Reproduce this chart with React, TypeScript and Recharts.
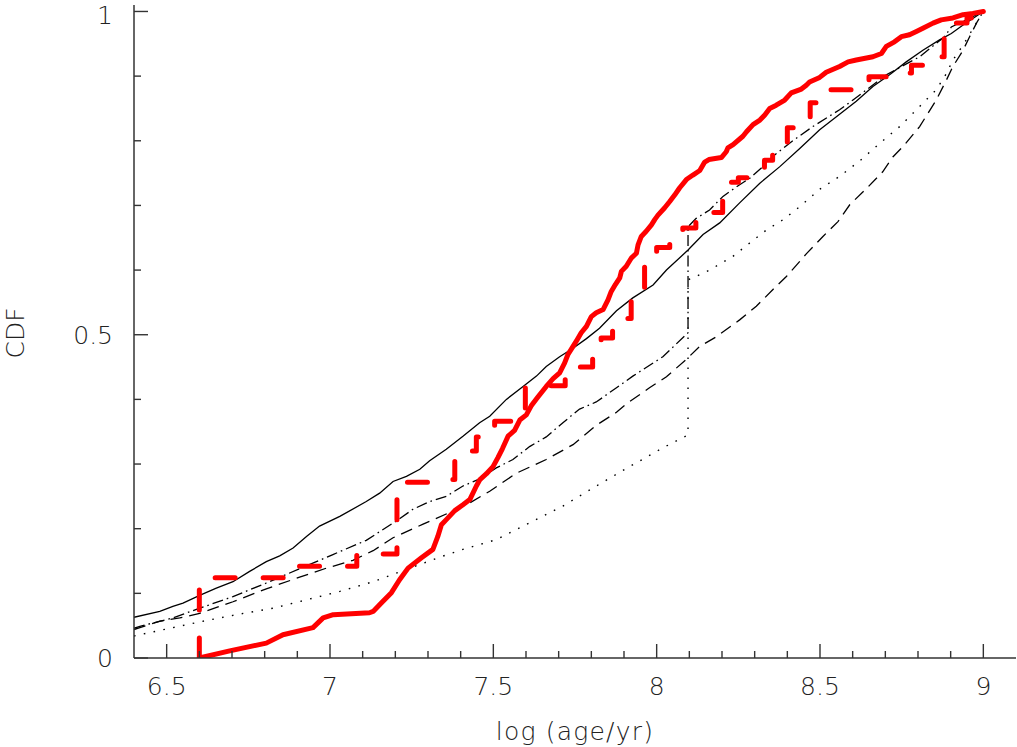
import React from 'react';
import { LineChart, Line, XAxis, YAxis } from 'recharts';

// ---- data (x = log age/yr, y = CDF) ----
const redSolidPts: [number, number][] = [
  [6.6, 0], [6.693, 0.011], [6.805, 0.023], [6.856, 0.036], [6.948, 0.047], [6.979, 0.062], [7.01, 0.067],
  [7.121, 0.07], [7.132, 0.072], [7.157, 0.085], [7.188, 0.101], [7.213, 0.121], [7.239, 0.139], [7.28, 0.155],
  [7.315, 0.168], [7.33, 0.188], [7.341, 0.206], [7.356, 0.214], [7.382, 0.228], [7.407, 0.237], [7.428, 0.245],
  [7.448, 0.266], [7.459, 0.276], [7.479, 0.285], [7.499, 0.296], [7.514, 0.31], [7.528, 0.324], [7.545, 0.343],
  [7.565, 0.352], [7.581, 0.368], [7.601, 0.376], [7.616, 0.39], [7.637, 0.404], [7.662, 0.42], [7.683, 0.432],
  [7.703, 0.441], [7.718, 0.456], [7.728, 0.469], [7.744, 0.482], [7.754, 0.49], [7.769, 0.503], [7.785, 0.513],
  [7.8, 0.528], [7.815, 0.534], [7.836, 0.539], [7.851, 0.554], [7.861, 0.567], [7.874, 0.578], [7.887, 0.588],
  [7.892, 0.598], [7.907, 0.606], [7.923, 0.619], [7.938, 0.626], [7.943, 0.639], [7.953, 0.652], [7.968, 0.66],
  [7.984, 0.67], [7.994, 0.678], [8.004, 0.685], [8.024, 0.696], [8.04, 0.706], [8.055, 0.716], [8.07, 0.727],
  [8.091, 0.74], [8.111, 0.747], [8.132, 0.754], [8.147, 0.767], [8.16, 0.771], [8.198, 0.774], [8.213, 0.783],
  [8.218, 0.789], [8.234, 0.794], [8.264, 0.807], [8.275, 0.814], [8.295, 0.825], [8.316, 0.832], [8.331, 0.84],
  [8.346, 0.85], [8.366, 0.855], [8.392, 0.863], [8.412, 0.874], [8.443, 0.88], [8.458, 0.886], [8.468, 0.891],
  [8.499, 0.898], [8.519, 0.906], [8.56, 0.915], [8.586, 0.922], [8.611, 0.925], [8.662, 0.93], [8.688, 0.935],
  [8.703, 0.946], [8.728, 0.953], [8.749, 0.961], [8.774, 0.964], [8.795, 0.969], [8.815, 0.974], [8.846, 0.982],
  [8.871, 0.987], [8.907, 0.99], [8.938, 0.995], [8.968, 0.997], [9.0, 1.0],
];

const redDashedSteps: [number, number][] = [
  [6.6, 0], [6.6, 0.124], [6.898, 0.142], [7.082, 0.161], [7.205, 0.272], [7.32, 0.276], [7.382, 0.32],
  [7.448, 0.342], [7.504, 0.366], [7.598, 0.421], [7.72, 0.45], [7.804, 0.49], [7.83, 0.495], [7.865, 0.525],
  [7.922, 0.573], [7.963, 0.62], [8.0, 0.635], [8.04, 0.647], [8.08, 0.665], [8.12, 0.68], [8.15, 0.689],
  [8.202, 0.736], [8.25, 0.743], [8.33, 0.77], [8.355, 0.794], [8.4, 0.82], [8.45, 0.835], [8.47, 0.859],
  [8.5, 0.879], [8.6, 0.886], [8.65, 0.899], [8.72, 0.905], [8.78, 0.917], [8.82, 0.93], [8.88, 0.965],
  [8.905, 0.982], [8.95, 0.99], [9.0, 1.0],
];

const solidModelPts: [number, number][] = [
  [6.4, 0.063], [6.479, 0.072], [6.519, 0.08], [6.55, 0.085], [6.601, 0.097], [6.652, 0.108], [6.703, 0.118],
  [6.754, 0.134], [6.805, 0.149], [6.846, 0.158], [6.887, 0.17], [6.928, 0.188], [6.968, 0.204], [7.03, 0.219],
  [7.111, 0.242], [7.152, 0.255], [7.193, 0.273], [7.234, 0.281], [7.275, 0.292], [7.305, 0.305], [7.356, 0.323],
  [7.407, 0.343], [7.458, 0.364], [7.489, 0.374], [7.54, 0.4], [7.591, 0.42], [7.632, 0.436], [7.662, 0.451],
  [7.703, 0.466], [7.744, 0.479], [7.785, 0.494], [7.825, 0.51], [7.877, 0.537], [7.927, 0.557], [7.989, 0.577],
  [8.03, 0.6], [8.096, 0.631], [8.142, 0.655], [8.193, 0.673], [8.254, 0.704], [8.315, 0.734], [8.377, 0.76],
  [8.438, 0.788], [8.499, 0.817], [8.56, 0.841], [8.611, 0.861], [8.662, 0.884], [8.713, 0.902], [8.764, 0.922],
  [8.815, 0.94], [8.866, 0.956], [8.902, 0.966], [8.938, 0.979], [9.0, 1.0],
];

const dashDotModelPts: [number, number][] = [
  [6.4, 0.046], [6.418, 0.049], [6.519, 0.062], [6.601, 0.077], [6.703, 0.095], [6.805, 0.116], [6.907, 0.138],
  [7.009, 0.16], [7.111, 0.182], [7.203, 0.212], [7.254, 0.23], [7.305, 0.242], [7.356, 0.25], [7.407, 0.266],
  [7.458, 0.277], [7.509, 0.294], [7.56, 0.307], [7.611, 0.327], [7.662, 0.342], [7.713, 0.364], [7.764, 0.385],
  [7.815, 0.396], [7.877, 0.418], [7.927, 0.436], [8.019, 0.466], [8.096, 0.503], [8.096, 0.667], [8.121, 0.68],
  [8.162, 0.693], [8.203, 0.714], [8.254, 0.732], [8.285, 0.742], [8.336, 0.765], [8.356, 0.776], [8.417, 0.8],
  [8.478, 0.822], [8.56, 0.848], [8.601, 0.863], [8.703, 0.902], [8.805, 0.93], [8.881, 0.961], [8.902, 0.976],
  [9.0, 1.0],
];

const dashedModelPts: [number, number][] = [
  [6.4, 0.044], [6.418, 0.047], [6.479, 0.057], [6.54, 0.062], [6.601, 0.069], [6.703, 0.087], [6.805, 0.107],
  [6.907, 0.125], [6.989, 0.139], [7.07, 0.151], [7.132, 0.166], [7.193, 0.186], [7.285, 0.207], [7.366, 0.225],
  [7.428, 0.24], [7.489, 0.258], [7.571, 0.286], [7.662, 0.307], [7.744, 0.33], [7.815, 0.36], [7.877, 0.38],
  [7.907, 0.393], [7.978, 0.418], [8.03, 0.435], [8.091, 0.462], [8.132, 0.482], [8.183, 0.497], [8.254, 0.523],
  [8.305, 0.544], [8.356, 0.57], [8.397, 0.59], [8.458, 0.625], [8.509, 0.652], [8.555, 0.675], [8.591, 0.701],
  [8.642, 0.726], [8.692, 0.752], [8.723, 0.775], [8.754, 0.791], [8.805, 0.822], [8.856, 0.863], [8.887, 0.894],
  [8.907, 0.915], [8.938, 0.94], [8.958, 0.961], [8.979, 0.982], [9.0, 1.0],
];

const dottedModelPts: [number, number][] = [
  [6.4, 0.034], [6.418, 0.036], [6.519, 0.047], [6.622, 0.058], [6.724, 0.068], [6.826, 0.077], [6.928, 0.09],
  [7.03, 0.103], [7.132, 0.118], [7.234, 0.137], [7.336, 0.156], [7.407, 0.168], [7.509, 0.183], [7.611, 0.209],
  [7.713, 0.235], [7.815, 0.266], [7.917, 0.296], [8.019, 0.325], [8.096, 0.345], [8.096, 0.585], [8.111, 0.588],
  [8.162, 0.6], [8.233, 0.621], [8.285, 0.642], [8.336, 0.662], [8.387, 0.678], [8.438, 0.698], [8.499, 0.725],
  [8.56, 0.745], [8.622, 0.769], [8.683, 0.796], [8.744, 0.822], [8.805, 0.853], [8.856, 0.879], [8.887, 0.904],
  [8.907, 0.925], [8.938, 0.948], [9.0, 1.0],
];

// ---- ticks ----
const xMajorTicks = [6.5, 7, 7.5, 8, 8.5, 9];
const xMajorLabels = ['6.5', '7', '7.5', '8', '8.5', '9'];
const xMinorTicks = [6.6, 6.7, 6.8, 6.9, 7.1, 7.2, 7.3, 7.4, 7.6, 7.7, 7.8, 7.9, 8.1, 8.2, 8.3, 8.4, 8.6, 8.7, 8.8, 8.9];
const yMajorTicks = [0, 0.5, 1];
const yMajorLabels = ['0', '0.5', '1'];
const yMinorTicks = [0.1, 0.2, 0.3, 0.4, 0.6, 0.7, 0.8, 0.9];

const xAxisTitle = 'log (age/yr)';
const yAxisTitle = 'CDF';

const toData = (pts: [number, number][]) => pts.map(([x, y]) => ({ x, y }));

const FONT = "'DejaVu Sans', sans-serif";
const TEXT_COLOR = '#222';
const FRAME_COLOR = '#333';
const MAJOR_LEN = 14;
const MINOR_LEN = 7;

const allX = [...xMajorTicks, ...xMinorTicks].sort((a, b) => a - b);
const allY = [...yMajorTicks, ...yMinorTicks].sort((a, b) => a - b);

const majorIndex = (arr: number[], v: number) => arr.findIndex((m) => Math.abs(m - v) < 1e-6);

const BottomTick = (p: any) => {
  const i = majorIndex(xMajorTicks, p.payload.value);
  const len = i >= 0 ? MAJOR_LEN : MINOR_LEN;
  return (
    <g>
      <line x1={p.x} x2={p.x} y1={p.y} y2={p.y - len} stroke={FRAME_COLOR} strokeWidth={1.4} />
      {i >= 0 && (
        <text x={p.x} y={p.y + 37} textAnchor="middle" fontFamily={FONT} fontSize={25} fontWeight={200} fill={TEXT_COLOR}>
          {xMajorLabels[i]}
        </text>
      )}
    </g>
  );
};

const TopTick = (p: any) => {
  const i = majorIndex(xMajorTicks, p.payload.value);
  const len = i >= 0 ? MAJOR_LEN : MINOR_LEN;
  return <line x1={p.x} x2={p.x} y1={p.y} y2={p.y + len} stroke={FRAME_COLOR} strokeWidth={1.4} />;
};

const LeftTick = (p: any) => {
  const i = majorIndex(yMajorTicks, p.payload.value);
  const len = i >= 0 ? MAJOR_LEN : MINOR_LEN;
  return (
    <g>
      <line x1={p.x} x2={p.x + len} y1={p.y} y2={p.y} stroke={FRAME_COLOR} strokeWidth={1.4} />
      {i >= 0 && (
        <text x={p.x - 21} y={Math.max(p.y + 9, 24)} textAnchor="end" fontFamily={FONT} fontSize={25} fontWeight={200}
          fill={TEXT_COLOR}>
          {yMajorLabels[i]}
        </text>
      )}
    </g>
  );
};

const RightTick = (p: any) => {
  const i = majorIndex(yMajorTicks, p.payload.value);
  const len = i >= 0 ? MAJOR_LEN : MINOR_LEN;
  return <line x1={p.x} x2={p.x - len} y1={p.y} y2={p.y} stroke={FRAME_COLOR} strokeWidth={1.4} />;
};

const X_DOMAIN: [number, number] = [6.4, 9.1];
const Y_DOMAIN: [number, number] = [0, 1.01];
const axisLine = { stroke: FRAME_COLOR, strokeWidth: 1.5 };

export default function App() {
  return (
    <div style={{ position: 'absolute', left: 0, top: 0, width: 1017, height: 747, background: '#fff' }}>
      <LineChart width={1017} height={747} margin={{ top: 5, right: 1, bottom: 29, left: 0 }}>
        <XAxis
          xAxisId="b" dataKey="x" type="number" domain={X_DOMAIN} allowDataOverflow orientation="bottom"
          height={60} ticks={allX} interval={0} tickSize={0} tickMargin={0} tickLine={false}
          axisLine={axisLine} tick={(p: any) => <BottomTick {...p} />}
        />
        <XAxis
          xAxisId="t" dataKey="x" type="number" domain={X_DOMAIN} allowDataOverflow orientation="top"
          height={0} ticks={allX} interval={0} tickSize={0} tickMargin={0} tickLine={false}
          axisLine={axisLine} tick={(p: any) => <TopTick {...p} />}
        />
        <YAxis
          yAxisId="l" dataKey="y" type="number" domain={Y_DOMAIN} allowDataOverflow orientation="left"
          width={134} ticks={allY} interval={0} tickSize={0} tickMargin={0} tickLine={false}
          axisLine={axisLine} tick={(p: any) => <LeftTick {...p} />}
        />
        <YAxis
          yAxisId="r" dataKey="y" type="number" domain={Y_DOMAIN} allowDataOverflow orientation="right"
          width={0} ticks={allY} interval={0} tickSize={0} tickMargin={0} tickLine={false}
          axisLine={axisLine} tick={(p: any) => <RightTick {...p} />}
        />
        <Line xAxisId="b" yAxisId="l" data={toData(dottedModelPts)} dataKey="y" type="linear" stroke="#000"
          strokeWidth={1.4} strokeDasharray="1.6 8.4" dot={false} activeDot={false} isAnimationActive={false} />
        <Line xAxisId="b" yAxisId="l" data={toData(dashedModelPts)} dataKey="y" type="linear" stroke="#000"
          strokeWidth={1.3} strokeDasharray="12 7" dot={false} activeDot={false} isAnimationActive={false} />
        <Line xAxisId="b" yAxisId="l" data={toData(dashDotModelPts)} dataKey="y" type="linear" stroke="#000"
          strokeWidth={1.3} strokeDasharray="11 4 1.6 4" dot={false} activeDot={false} isAnimationActive={false} />
        <Line xAxisId="b" yAxisId="l" data={toData(solidModelPts)} dataKey="y" type="linear" stroke="#000"
          strokeWidth={1.3} dot={false} activeDot={false} isAnimationActive={false} />
        <Line xAxisId="b" yAxisId="l" data={toData(redDashedSteps)} dataKey="y" type="stepAfter" stroke="#ff0000"
          strokeWidth={5} strokeDasharray="20 28" strokeLinecap="round" strokeLinejoin="round"
          dot={false} activeDot={false} isAnimationActive={false} />
        <Line xAxisId="b" yAxisId="l" data={toData(redSolidPts)} dataKey="y" type="linear" stroke="#ff0000"
          strokeWidth={5} strokeLinejoin="round" strokeLinecap="round"
          dot={false} activeDot={false} isAnimationActive={false} />
      </LineChart>
      <svg width={1017} height={747} style={{ position: 'absolute', left: 0, top: 0, pointerEvents: 'none' }}>
        <text x={575} y={740} textAnchor="middle" fontFamily={FONT} fontSize={25} fontWeight={200}
          letterSpacing={1.2} fill={TEXT_COLOR}>
          {xAxisTitle}
        </text>
        <text x={24} y={333} transform="rotate(-90 24 333)" textAnchor="middle" fontFamily={FONT} fontSize={25}
          fontWeight={200} fill={TEXT_COLOR}>
          {yAxisTitle}
        </text>
      </svg>
    </div>
  );
}
